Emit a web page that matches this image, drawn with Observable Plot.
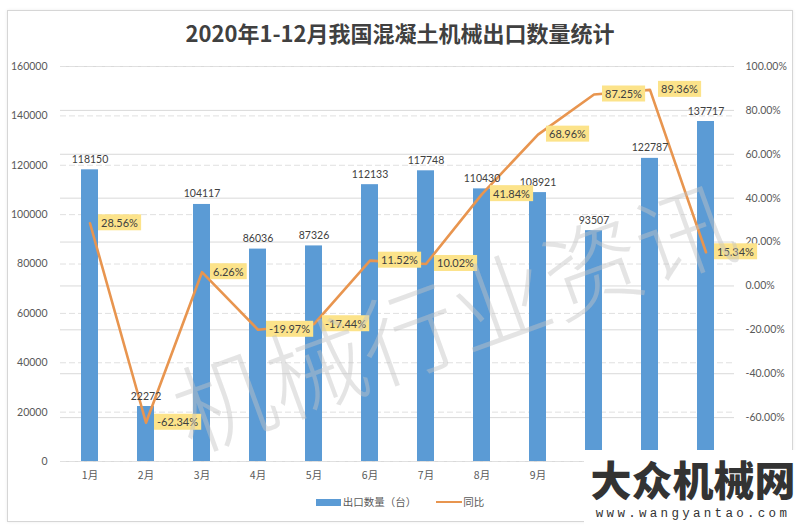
<!DOCTYPE html>
<html>
<head>
<meta charset="utf-8">
<script src="https://cdn.jsdelivr.net/npm/d3@7"></script>
<script src="https://cdn.jsdelivr.net/npm/@observablehq/plot@0.6"></script>
<style>
  body { margin: 0; background: #fff; font-family: Lato, "Noto Sans CJK SC", sans-serif; }
  #wrap { position: relative; width: 800px; height: 530px; overflow: hidden; background: #fff; }
  #frame { position: absolute; left: 7px; top: 10px; width: 786px; height: 512px; border: 1px solid #d6d6d6; box-sizing: border-box; box-shadow: 0 0 3px rgba(0,0,0,0.08); }
  #title { position: absolute; top: 17px; left: 0; width: 800px; text-align: center; font-family: "Noto Sans CJK SC", sans-serif; font-weight: bold; font-size: 22px; line-height: 30px; color: #404040; }
  #chart { position: absolute; top: 50px; left: 0; }
  #legend { position: absolute; top: 494px; left: 0; width: 800px; display: flex; justify-content: center; align-items: center; font-family: "Noto Sans CJK SC", sans-serif; font-size: 10.5px; color: #595959; line-height: 16px; }
  #legend .item { display: flex; align-items: center; margin: 0 10px; }
  #legend .sw-bar { width: 25px; height: 7px; background: #5b9bd5; margin-right: 2px; }
  #legend .sw-line { width: 26px; height: 2.5px; background: #e8954f; margin-right: 1px; }
  #overlay { position: absolute; left: 0; top: 0; pointer-events: none; }
</style>
</head>
<body>
<div id="wrap">
  <div id="frame"></div>
  <div id="title">2020年1-12月我国混凝土机械出口数量统计</div>
  <div id="chart"></div>
  <div id="legend">
    <div class="item"><div class="sw-bar"></div><span>出口数量（台）</span></div>
    <div class="item"><div class="sw-line"></div><span>同比</span></div>
  </div>
</div>
<script>
const months = ["1月","2月","3月","4月","5月","6月","7月","8月","9月","10月","11月","12月"];
const counts = [118150, 22272, 104117, 86036, 87326, 112133, 117748, 110430, 108921, 93507, 122787, 137717];
const pcts = [28.56, -62.34, 6.26, -19.97, -17.44, 11.52, 10.02, 41.84, 68.96, 87.25, 89.36, 15.34];
const leftTicks = [0, 20000, 40000, 60000, 80000, 100000, 120000, 140000, 160000];
const rightTicks = [-60, -40, -20, 0, 20, 40, 60, 80, 100];
const rightGrid = [-80, -60, -40, -20, 0, 20, 40, 60, 80, 100];
// month labels 10月–12月 are hidden under the site logo in the reference
const visibleMonthTicks = ["1月","2月","3月","4月","5月","6月","7月","8月","9月"];
const leftDomain = [0, 160000];
const rightDomain = [-80, 100];

const toLeft = d3.scaleLinear(rightDomain, leftDomain);
const data = months.map((m, i) => ({month: m, count: counts[i], pct: pcts[i]}));

const barColor = "#5b9bd5";
const lineColor = "#e8954f";

const chart = Plot.plot({
  width: 800,
  height: 440,
  marginTop: 16,
  marginBottom: 29,
  marginLeft: 60,
  marginRight: 66,
  style: {fontFamily: 'Lato, "Noto Sans CJK SC", sans-serif', fontSize: "10.5px", color: "#595959", background: "transparent"},
  x: {domain: months, paddingInner: 0.7, paddingOuter: 0.35, label: null},
  y: {domain: leftDomain, label: null},
  marks: [
    Plot.gridY(rightGrid.map(toLeft), {stroke: "#d9d9d9", strokeOpacity: 1}),
    Plot.gridY(leftTicks, {stroke: "#e0e0e0", strokeOpacity: 1, strokeDasharray: "6,3"}),
    Plot.axisY(leftTicks, {anchor: "left", tickSize: 0, tickPadding: 13, tickFormat: d3.format("d"), label: null, fill: "#595959"}),
    Plot.axisY(rightTicks.map(toLeft), {anchor: "right", tickSize: 0, tickPadding: 11, label: null, fill: "#595959",
      tickFormat: v => Math.round(toLeft.invert(v)).toFixed(2) + "%"}),
    Plot.axisX(visibleMonthTicks, {tickSize: 0, tickPadding: 10, label: null, fill: "#595959", fontFamily: '"Noto Sans CJK SC", sans-serif'}),
    Plot.barY(data, {x: "month", y: "count", fill: barColor}),
    Plot.line(data, {x: "month", y: d => toLeft(d.pct), stroke: lineColor, strokeWidth: 2.6}),
    Plot.text(data, {x: "month", y: "count", text: d => String(d.count), dy: -7, lineAnchor: "bottom", fill: "#404040", fontSize: 10.5}),
    Plot.text(data, {x: "month", y: d => toLeft(d.pct), text: d => d.pct.toFixed(2) + "%", dx: 11, textAnchor: "start",
      fill: "#404040", fontSize: 11, ariaDescription: "pctlab"})
  ]
});

document.getElementById("chart").append(chart);

d3.select(chart).selectAll('g[aria-description="pctlab"] text').each(function() {
  const el = this;
  const b = el.getBBox();
  const r = document.createElementNS("http://www.w3.org/2000/svg", "rect");
  r.setAttribute("x", b.x - 3);
  r.setAttribute("y", b.y - 1.5);
  r.setAttribute("width", b.width + 6);
  r.setAttribute("height", b.height + 3);
  r.setAttribute("fill", "#fce38a");
  const t = el.getAttribute("transform");
  if (t) r.setAttribute("transform", t);
  el.parentNode.insertBefore(r, el);
});

// watermarks overlay
const ov = d3.select("#wrap").append("svg")
  .attr("id", "overlay").attr("width", 800).attr("height", 530);
ov.append("text")
  .attr("transform", "translate(452,312) rotate(-20)")
  .attr("text-anchor", "middle")
  .attr("dominant-baseline", "central")
  .attr("font-family", '"Noto Sans CJK SC", sans-serif')
  .attr("font-weight", 300)
  .attr("font-size", 98)
  .attr("fill", "#c4c4c4")
  .attr("fill-opacity", 0.45)
  .text("机械行业资讯");
ov.append("rect").attr("x", 584).attr("y", 450).attr("width", 216).attr("height", 80).attr("fill", "#fff");
ov.append("text")
  .attr("x", 693).attr("y", 496)
  .attr("text-anchor", "middle")
  .attr("font-family", '"Noto Sans CJK SC", sans-serif')
  .attr("font-weight", 900)
  .attr("font-size", 41)
  .attr("fill", "#333")
  .text("大众机械网");
ov.append("text")
  .attr("x", 693).attr("y", 517)
  .attr("text-anchor", "middle")
  .attr("font-family", '"Liberation Mono", monospace')
  .attr("font-size", 12.5)
  .attr("letter-spacing", 3.3)
  .attr("fill", "#333")
  .text("www.wangyantao.com");
</script>
</body>
</html>
